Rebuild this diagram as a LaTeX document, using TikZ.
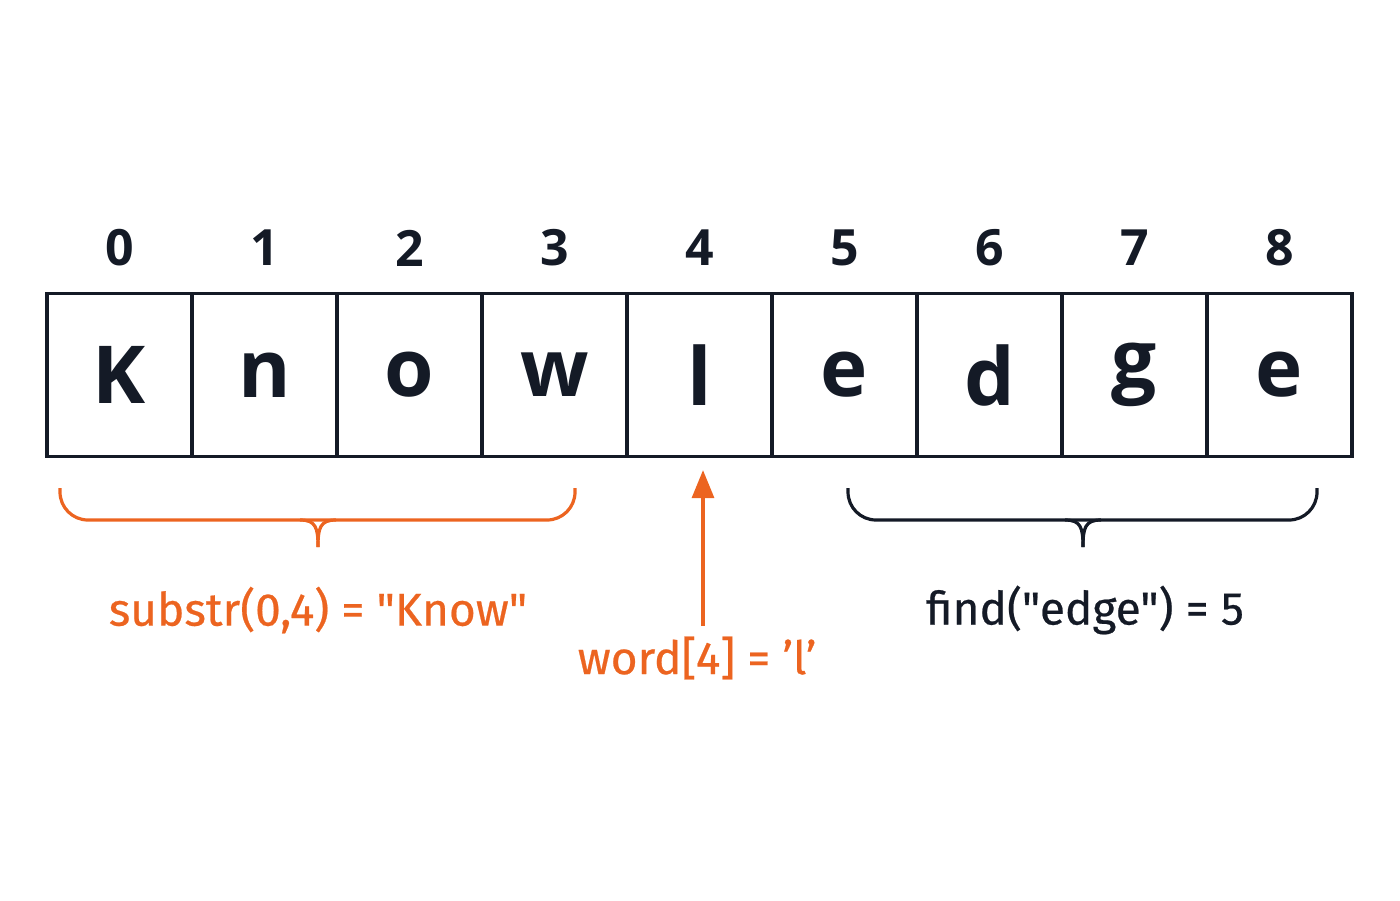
\documentclass[tikz,border=0pt]{standalone}
\usepackage{fontspec}
\setmainfont{Open Sans}
\newfontfamily\labf{Fira Sans}[FakeBold=0.5]
\usetikzlibrary{arrows.meta}
\definecolor{org}{HTML}{EC6420}
\definecolor{ink}{HTML}{141A26}
\begin{document}
\begin{tikzpicture}[x=0.5pt,y=-0.5pt,
  cell/.style={draw=ink,line width=1.6pt,minimum width=72.5pt,minimum height=81.5pt,inner sep=0,font=\fontsize{40}{40}\selectfont\bfseries,text=ink},
  idx/.style={font=\fontsize{25}{25}\selectfont\bfseries,text=ink},
  lab/.style={font=\labf\fontsize{23}{23}\selectfont},
  br/.style={line width=1.6pt}]
\useasboundingbox (0,0) rectangle (1400,900);
\foreach \c [count=\i from 0] in {K,n,o,w,l,e,d,g,e}{
  \pgfmathsetmacro\xc{47+72.5+145*\i}
  \node[cell] (c\i) at (\xc,375) {\c};
  \node[idx] (i\i) at (\xc,248) {\i};
}
\draw[br,org,rounded corners=14] (60,488) -- (60,520) -- (575,520) -- (575,488);
\draw[br,org] (300,520) .. controls (316,520) and (318,528) .. (318,547);
\draw[br,org] (336,520) .. controls (320,520) and (318,528) .. (318,547);
\draw[br,ink,rounded corners=14] (848,488) -- (848,520) -- (1317,520) -- (1317,488);
\draw[br,ink] (1065,520) .. controls (1081,520) and (1083,528) .. (1083,547);
\draw[br,ink] (1101,520) .. controls (1085,520) and (1083,528) .. (1083,547);
\node[lab,text=org] (s) at (318,610) {substr(0,4) = \symbol{34}Know\symbol{34}};
\node[lab,text=ink] (f) at (1085,610) {find(\symbol{34}edge\symbol{34}) = 5};
\node[lab,text=org] (w) at (697,658) {word[4] = ’l’};
\coordinate (a0) at (703,626);
\draw[org,line width=1.6pt,-{Triangle[length=14pt,width=11pt]}] (a0) -- ([yshift=-6pt]c4.south -| a0);
\end{tikzpicture}
\end{document}
